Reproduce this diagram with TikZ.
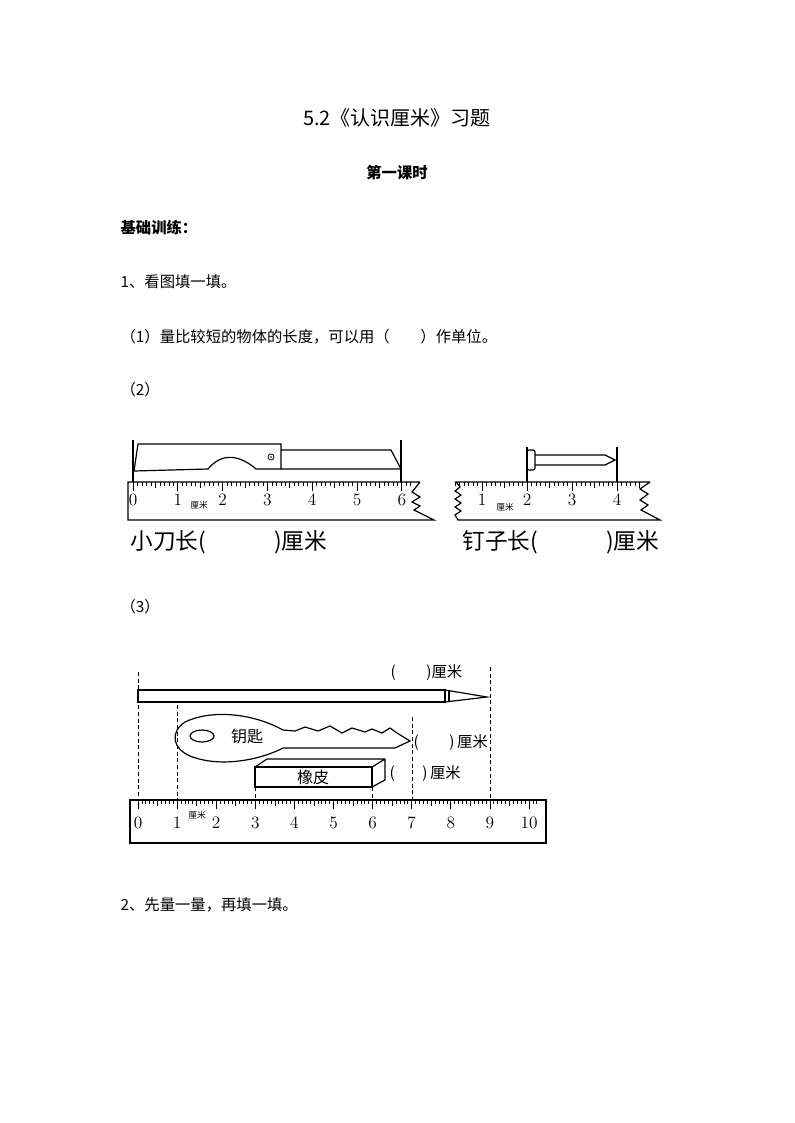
\documentclass[tikz,border=0pt]{standalone}
\usepackage{fontspec}
\newfontfamily\cjk{Noto Sans CJK SC}
\begin{document}
\begin{tikzpicture}[x=0.75pt,y=-0.75pt,line width=0.9pt,
  txt/.style={anchor=west,inner sep=0pt,font=\cjk\fontsize{11.5pt}{13pt}\selectfont},
  big/.style={anchor=west,inner sep=0pt,font=\cjk\fontsize{17pt}{19pt}\selectfont},
  num/.style={inner sep=0pt,font=\fontsize{13pt}{14pt}\selectfont},
  tiny/.style={inner sep=0pt,font=\cjk\fontsize{6.5pt}{7pt}\selectfont},
  dl/.style={densely dashed,line width=0.6pt}]
\useasboundingbox (0,0) rectangle (794,1123);
% texts
\node[inner sep=0pt,font=\cjk\fontsize{15pt}{17pt}\selectfont] (title) at (397,118) {5.2《认识厘米》习题};
\node[inner sep=0pt,font=\cjk\bfseries\fontsize{11.5pt}{13pt}\selectfont] (sub) at (397,173) {第一课时};
\node[txt,font=\cjk\bfseries\fontsize{11.5pt}{13pt}\selectfont] (t1) at (120,228) {基础训练：};
\node[txt] (t2) at (120,282) {1、看图填一填。};
\node[txt] (t3) at (120,337) {（1）量比较短的物体的长度，可以用（\hspace{2em}）作单位。};
\node[txt] (t4) at (120,390) {（2）};
\node[txt] (t5) at (120,607) {（3）};
\node[txt] (t6) at (120,905) {2、先量一量，再填一填。};
% ===== knife ruler
\draw (420,482) -- (128,482) -- (128,520) -- (434,520) -- (414,510) -- (420,506) -- (412,502) -- (420,497) -- (412,492) -- (420,482);
\foreach \m in {0,...,62}{
  \pgfmathsetmacro\L{mod(\m,10)==0?9:(mod(\m,5)==0?6:4)}
  \draw[line width=0.5pt] (133+4.48*\m,482) -- ++(0,\L);}
\foreach \k in {0,...,6}{\node[num] (ka\k) at (133+44.8*\k,500) {\k};}
\node[tiny] (kcm) at (199,505) {厘米};
\draw (133,440) -- (133,482) (401,440) -- (401,482);
\draw (138,444) -- (281,444) -- (281,469) -- (256,469) .. controls (240,455) and (222,452) .. (208,469) -- (134,471) -- cycle;
\draw (281,450) -- (391,450) -- (401,469) -- (281,469);
\draw[line width=0.6pt] (271,457) circle (3);
\fill (271,457) circle (0.9);
\node[big] (kt) at (130,542) {小刀长(\hspace{3em})厘米};
% ===== nail ruler
\draw (650,482) -- (456,482) -- (460,487) -- (455,491) -- (461,495) -- (455,499) -- (461,503) -- (455,507) -- (461,511) -- (455,515) -- (458,520) -- (660,520) -- (641,510) -- (648,505) -- (640,500) -- (648,494) -- (640,489) -- (650,482);
\foreach \m in {4,...,45}{
  \pgfmathsetmacro\L{mod(\m,10)==0?9:(mod(\m,5)==0?6:4)}
  \draw[line width=0.5pt] (437+4.5*\m,482) -- ++(0,\L);}
\foreach \k in {1,...,4}{\node[num] (na\k) at (437+45*\k,500) {\k};}
\node[tiny] (ncm) at (505,507) {厘米};
\draw (527,447) -- (527,482) (617,447) -- (617,482);
\draw[rounded corners=1.5pt] (527,450) rectangle (535,470);
\draw (535,455) -- (605,455) -- (615,460) -- (605,465) -- (535,465);
\node[big] (nt) at (462,542) {钉子长(\hspace{3em})厘米};
% ===== ruler 3
\draw (130,800) rectangle (546,843);
\foreach \m in {0,...,102}{
  \pgfmathsetmacro\L{mod(\m,10)==0?9:(mod(\m,5)==0?6:4)}
  \draw[line width=0.5pt] (138+3.91*\m,800) -- ++(0,\L);}
\foreach \k in {0,...,10}{\node[num] (ra\k) at (138+39.1*\k,823) {\k};}
\node[tiny] (rcm) at (197,815) {厘米};
\draw[dl] (138,672) -- (138,800);
\draw[dl] (177,705) -- (177,800);
\draw[dl] (255,787) -- (255,800);
\draw[dl] (372,787) -- (372,800);
\draw[dl] (412,717) -- (412,800);
\draw[dl] (490,667) -- (490,800);
% pencil
\draw (138,690) rectangle (445,702);
\draw (445,690) -- (487,697) -- (445,702);
\draw (449,691) -- (449,702);
\node[txt] (pl) at (390,673) {(\hspace{2em})厘米};
% key
\draw (283,730) .. controls (250,712) and (210,710) .. (185,722) .. controls (170,732) and (172,748) .. (190,756) .. controls (220,768) and (260,760) .. (283,748) -- (395,748) -- (410,741) -- (397,733) -- (390,728) -- (382,733) -- (372,729) -- (365,732) -- (352,728) -- (342,733) -- (330,726) -- (318,731) -- (305,727) -- (295,731) -- (283,730);
\draw (202,736) ellipse (12 and 6);
\node[inner sep=0pt,font=\cjk\fontsize{12pt}{13pt}\selectfont] (kl) at (247,736) {钥匙};
\node[txt] (kp) at (413,743) {(\hspace{2em})\,厘米};
% eraser
\draw (255,767) rectangle (372,787);
\draw (255,767) -- (267,759) -- (385,759) -- (385,780) -- (372,787) (372,767) -- (385,759);
\node[inner sep=0pt,font=\cjk\fontsize{12pt}{13pt}\selectfont] (el) at (313,777) {橡皮};
\node[txt] (ep) at (389,774) {(\hspace{1.8em})\,厘米};
\end{tikzpicture}
\end{document}
